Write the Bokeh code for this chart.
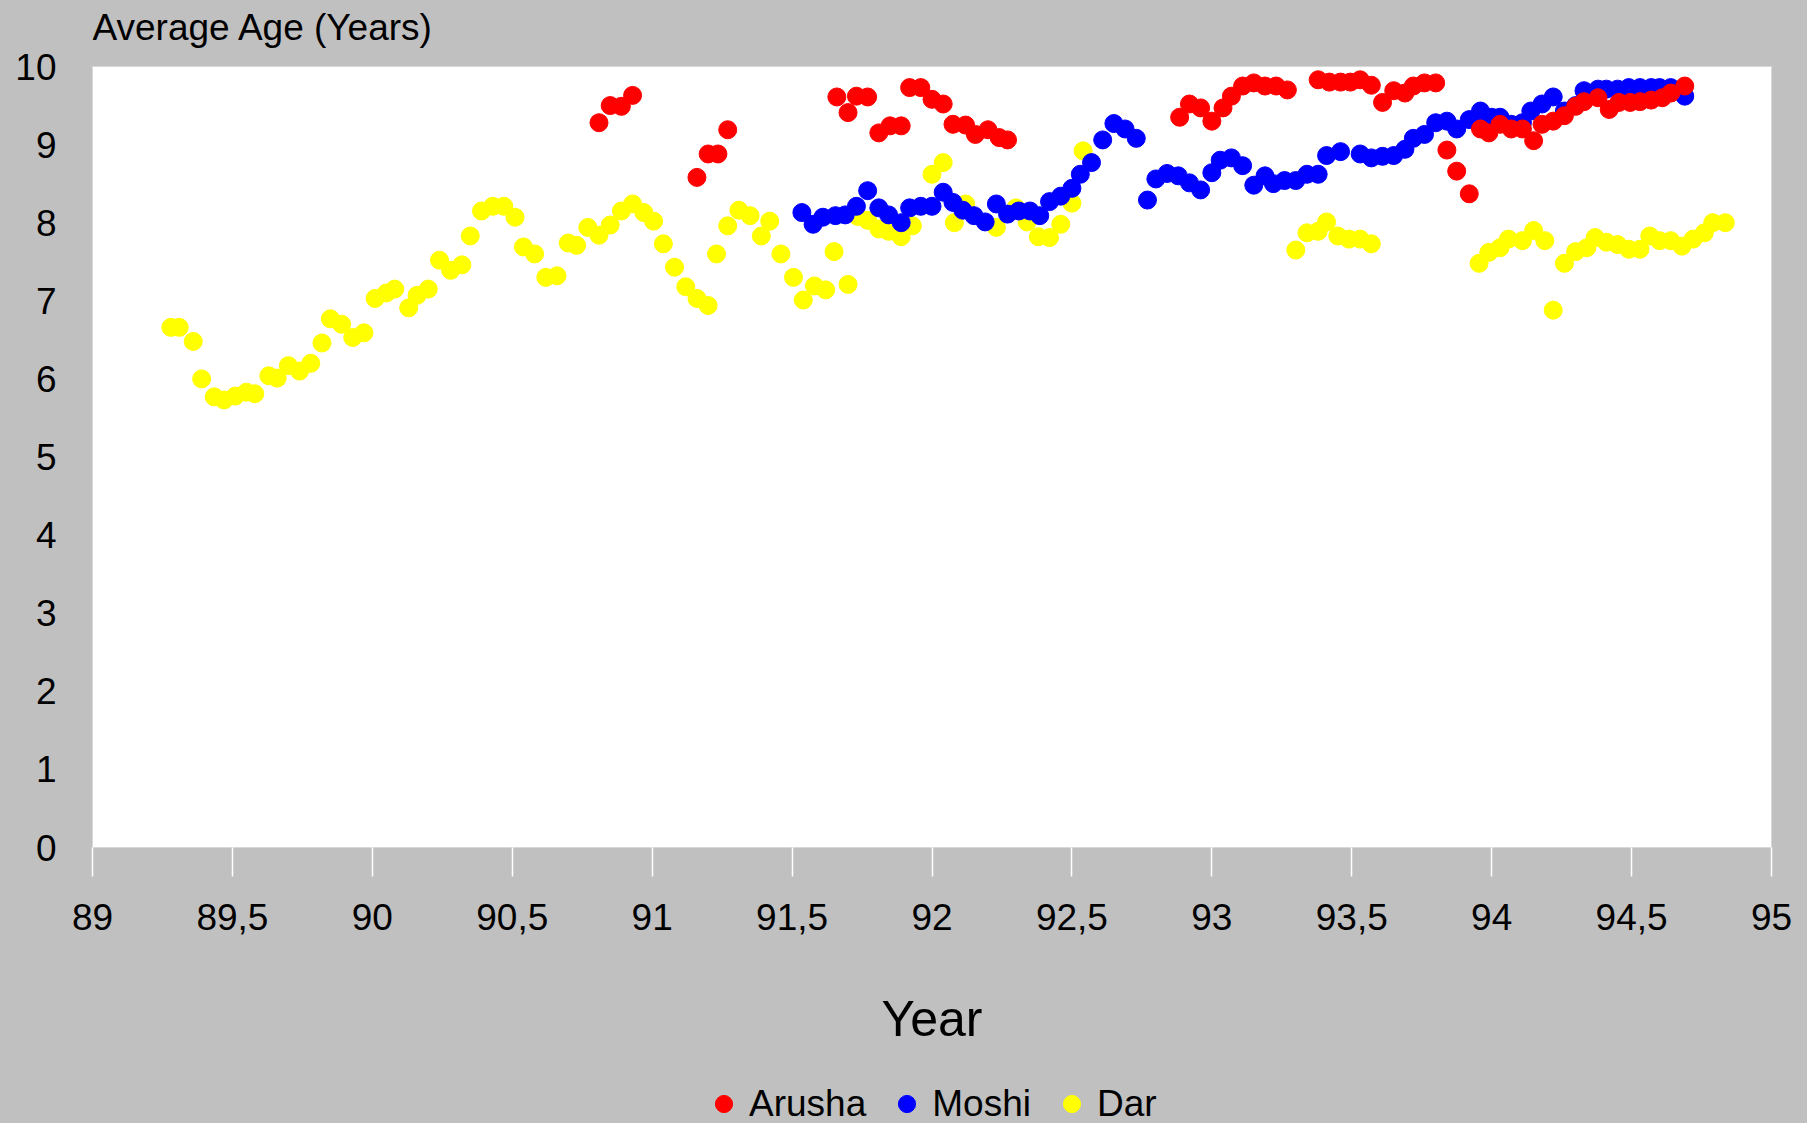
from bokeh.plotting import figure
from bokeh.models import FixedTicker, Legend, LegendItem, Label
from bokeh.layouts import column
from bokeh.embed import file_html
from bokeh.resources import INLINE

# ---------------- data ----------------
dar_year = [89.28, 89.31, 89.36, 89.39, 89.435, 89.47, 89.51, 89.55, 89.58, 89.63,
            89.66, 89.70, 89.74, 89.78, 89.82, 89.85, 89.89, 89.93, 89.97, 90.01,
            90.05, 90.08, 90.13, 90.16, 90.20, 90.24, 90.28, 90.32, 90.35, 90.39,
            90.43, 90.47, 90.51, 90.54, 90.58, 90.62, 90.66, 90.70, 90.73, 90.77,
            90.81, 90.85, 90.89, 90.93, 90.97, 91.005, 91.04, 91.08, 91.12, 91.16,
            91.20, 91.23, 91.27, 91.31, 91.35, 91.39, 91.42, 91.46, 91.505, 91.54,
            91.58, 91.62, 91.65, 91.70, 91.735, 91.77, 91.81, 91.845, 91.89, 91.93,
            92.00, 92.04, 92.08, 92.12, 92.23, 92.30, 92.34, 92.38, 92.42, 92.46,
            92.50, 92.54,
            93.30, 93.34, 93.38, 93.41, 93.45, 93.49, 93.53, 93.57,
            93.955, 93.99, 94.03, 94.06, 94.11, 94.15, 94.19, 94.22, 94.26, 94.30,
            94.34, 94.37, 94.41, 94.45, 94.49, 94.53, 94.565, 94.60, 94.64, 94.68,
            94.72, 94.76, 94.79, 94.835]
dar_age = [6.66, 6.66, 6.48, 6.00, 5.77, 5.73, 5.78, 5.83, 5.81, 6.04,
           6.01, 6.17, 6.10, 6.20, 6.46, 6.77, 6.70, 6.53, 6.59, 7.03,
           7.10, 7.15, 6.91, 7.07, 7.15, 7.52, 7.39, 7.46, 7.83, 8.15,
           8.21, 8.21, 8.07, 7.69, 7.60, 7.30, 7.32, 7.74, 7.71, 7.94,
           7.84, 7.97, 8.15, 8.24, 8.13, 8.02, 7.73, 7.43, 7.18, 7.03,
           6.94, 7.60, 7.96, 8.16, 8.09, 7.83, 8.02, 7.60, 7.30, 7.01,
           7.19, 7.14, 7.63, 7.21, 8.08, 8.03, 7.92, 7.89, 7.82, 7.96,
           8.62, 8.77, 8.00, 8.24, 7.94, 8.19, 8.01, 7.82, 7.81, 7.98,
           8.25, 8.92,
           7.65, 7.87, 7.89, 8.01, 7.83, 7.79, 7.79, 7.73,
           7.48, 7.62, 7.68, 7.79, 7.77, 7.90, 7.77, 6.88, 7.48, 7.63,
           7.68, 7.81, 7.75, 7.72, 7.66, 7.66, 7.83, 7.77, 7.77, 7.70,
           7.79, 7.87, 8.00, 8.00]

moshi_year = [91.535, 91.575, 91.61, 91.655, 91.69, 91.73, 91.77, 91.81, 91.845, 91.89,
              91.92, 91.96, 92.00, 92.04, 92.075, 92.11, 92.15, 92.19, 92.23, 92.27,
              92.31, 92.35, 92.385, 92.42, 92.46, 92.50, 92.53, 92.57, 92.61, 92.65,
              92.69, 92.73, 92.77, 92.80, 92.84, 92.88, 92.92, 92.96, 93.00, 93.03,
              93.07, 93.11, 93.15, 93.19, 93.22, 93.26, 93.30, 93.34, 93.38, 93.41,
              93.46, 93.53, 93.57, 93.61, 93.65, 93.69, 93.72, 93.76, 93.80, 93.84,
              93.875, 93.92, 93.96, 94.00, 94.03, 94.07, 94.11, 94.14, 94.18, 94.22,
              94.26, 94.30, 94.33, 94.38, 94.41, 94.45, 94.49, 94.53, 94.57, 94.60,
              94.64, 94.69]
moshi_age = [8.13, 7.98, 8.07, 8.09, 8.10, 8.21, 8.41, 8.19, 8.10, 8.00,
             8.19, 8.21, 8.21, 8.39, 8.26, 8.16, 8.09, 8.01, 8.24, 8.11,
             8.15, 8.15, 8.09, 8.27, 8.34, 8.44, 8.62, 8.77, 9.06, 9.27,
             9.20, 9.08, 8.29, 8.56, 8.63, 8.60, 8.51, 8.42, 8.64, 8.80,
             8.83, 8.73, 8.48, 8.60, 8.50, 8.54, 8.54, 8.62, 8.62, 8.86,
             8.91, 8.88, 8.83, 8.85, 8.86, 8.94, 9.08, 9.13, 9.28, 9.30,
             9.20, 9.32, 9.43, 9.35, 9.35, 9.26, 9.28, 9.43, 9.52, 9.61,
             9.43, 9.50, 9.69, 9.71, 9.71, 9.71, 9.73, 9.73, 9.73, 9.73,
             9.73, 9.62]

arusha_year = [90.81, 90.85, 90.89, 90.93,
               91.16, 91.20, 91.235, 91.27,
               91.66, 91.70, 91.73, 91.77, 91.81, 91.85, 91.89, 91.92, 91.96, 92.00,
               92.04, 92.075, 92.12, 92.155, 92.20, 92.24, 92.27,
               92.885, 92.92, 92.96, 93.00, 93.04, 93.07, 93.11, 93.15, 93.19, 93.23,
               93.27,
               93.38, 93.42, 93.46, 93.495, 93.53, 93.57, 93.61, 93.65, 93.69, 93.72,
               93.76, 93.80, 93.84, 93.875, 93.92, 93.96, 93.99, 94.03, 94.07, 94.11,
               94.15, 94.18, 94.22, 94.26, 94.30, 94.33, 94.38, 94.42, 94.455, 94.495,
               94.53, 94.57, 94.61, 94.64, 94.69]
arusha_age = [9.28, 9.50, 9.49, 9.63,
              8.58, 8.88, 8.88, 9.19,
              9.61, 9.41, 9.62, 9.61, 9.15, 9.24, 9.24, 9.73, 9.73, 9.58,
              9.52, 9.26, 9.25, 9.13, 9.19, 9.09, 9.06,
              9.35, 9.52, 9.47, 9.30, 9.47, 9.62, 9.75, 9.79, 9.75, 9.75,
              9.70,
              9.83, 9.80, 9.80, 9.80, 9.83, 9.76, 9.54, 9.69, 9.66, 9.75,
              9.79, 9.79, 8.93, 8.66, 8.37, 9.20, 9.15, 9.26, 9.20, 9.20,
              9.05, 9.26, 9.30, 9.37, 9.49, 9.55, 9.60, 9.45, 9.54, 9.54,
              9.55, 9.57, 9.60, 9.66, 9.75]

series_names = ["Arusha", "Moshi", "Dar"]
series_colors = ["#FF0000", "#0000FF", "#FFFF00"]
series_years = [arusha_year, moshi_year, dar_year]
series_ages = [arusha_age, moshi_age, dar_age]

x_ticks = [89, 89.5, 90, 90.5, 91, 91.5, 92, 92.5, 93, 93.5, 94, 94.5, 95]
x_tick_labels = ["89", "89,5", "90", "90,5", "91", "91,5", "92", "92,5",
                 "93", "93,5", "94", "94,5", "95"]
y_ticks = [0, 1, 2, 3, 4, 5, 6, 7, 8, 9, 10]
y_caption = "Average Age (Years)"
x_caption = "Year"

FONT = "Liberation Sans"
BG = "#C0C0C0"


def strip(height):
    f = figure(width=1807, height=height, x_range=(0, 1), y_range=(0, 1),
               output_backend="svg", toolbar_location=None,
               x_axis_location=None, y_axis_location=None, min_border=0)
    f.background_fill_color = BG
    f.border_fill_color = BG
    f.outline_line_color = None
    f.xgrid.visible = False
    f.ygrid.visible = False
    f.styles = {"background-color": BG}
    return f


# ---------------- caption strip (y-axis caption above the plot) ----------------
tf = strip(48)
tf.add_layout(Label(x=0, y=21, x_units="screen", y_units="screen",
                    text=y_caption, text_font=FONT, text_font_size="37px",
                    text_color="black", text_baseline="alphabetic",
                    text_align="left"))

# ---------------- main plot ----------------
p = figure(width=1807, height=1027, x_range=(89, 95), y_range=(0, 10),
           output_backend="svg", toolbar_location=None,
           min_border_left=92, min_border_right=36,
           min_border_top=18, min_border_bottom=228)

p.background_fill_color = "white"
p.border_fill_color = BG
p.outline_line_color = "#d8d8d8"
p.xgrid.visible = False
p.ygrid.visible = False
p.styles = {"background-color": BG}

xa = p.xaxis[0]
xa.ticker = FixedTicker(ticks=x_ticks)
xa.major_label_overrides = {t: l for t, l in zip(x_ticks, x_tick_labels)}
xa.major_label_text_font = FONT
xa.major_label_text_font_size = "37px"
xa.major_label_text_color = "black"
xa.major_tick_line_color = "white"
xa.major_tick_line_width = 1.5
xa.major_tick_out = 29
xa.major_tick_in = 0
xa.minor_tick_line_color = None
xa.axis_line_color = "#d8d8d8"
xa.major_label_standoff = 27
xa.axis_label = x_caption
xa.axis_label_text_font = FONT
xa.axis_label_text_font_size = "50px"
xa.axis_label_text_font_style = "normal"
xa.axis_label_text_color = "black"
xa.axis_label_standoff = 58

ya = p.yaxis[0]
ya.ticker = FixedTicker(ticks=y_ticks)
ya.major_label_text_font = FONT
ya.major_label_text_font_size = "37px"
ya.major_label_text_color = "black"
ya.major_tick_line_color = None
ya.minor_tick_line_color = None
ya.axis_line_color = None
ya.major_label_standoff = 30

# drawing order: Dar below, Moshi, Arusha on top
for i in (2, 1, 0):
    p.scatter(series_years[i], series_ages[i], size=18, marker="circle",
              fill_color=series_colors[i], line_color=series_colors[i])

# ---------------- legend strip ----------------
lf = strip(48)
items = []
for i in range(3):
    # first point of each series, outside this strip's (0,1) ranges;
    # only used so the legend can draw its swatch
    r = lf.scatter(series_years[i][:1], series_ages[i][:1], size=18, marker="circle",
                   fill_color=series_colors[i], line_color=series_colors[i])
    items.append(LegendItem(label=series_names[i], renderers=[r]))

legend = Legend(items=items, orientation="horizontal", location=(610, -2),
                background_fill_alpha=0, border_line_color=None,
                label_text_font=FONT, label_text_font_size="37px",
                label_text_color="black",
                label_standoff=4, spacing=19, padding=0, margin=0,
                glyph_width=43, glyph_height=43)
lf.add_layout(legend, "center")

layout = column(tf, p, lf, spacing=0, styles={"background-color": BG})
open("out.html", "w").write(file_html(layout, INLINE))
